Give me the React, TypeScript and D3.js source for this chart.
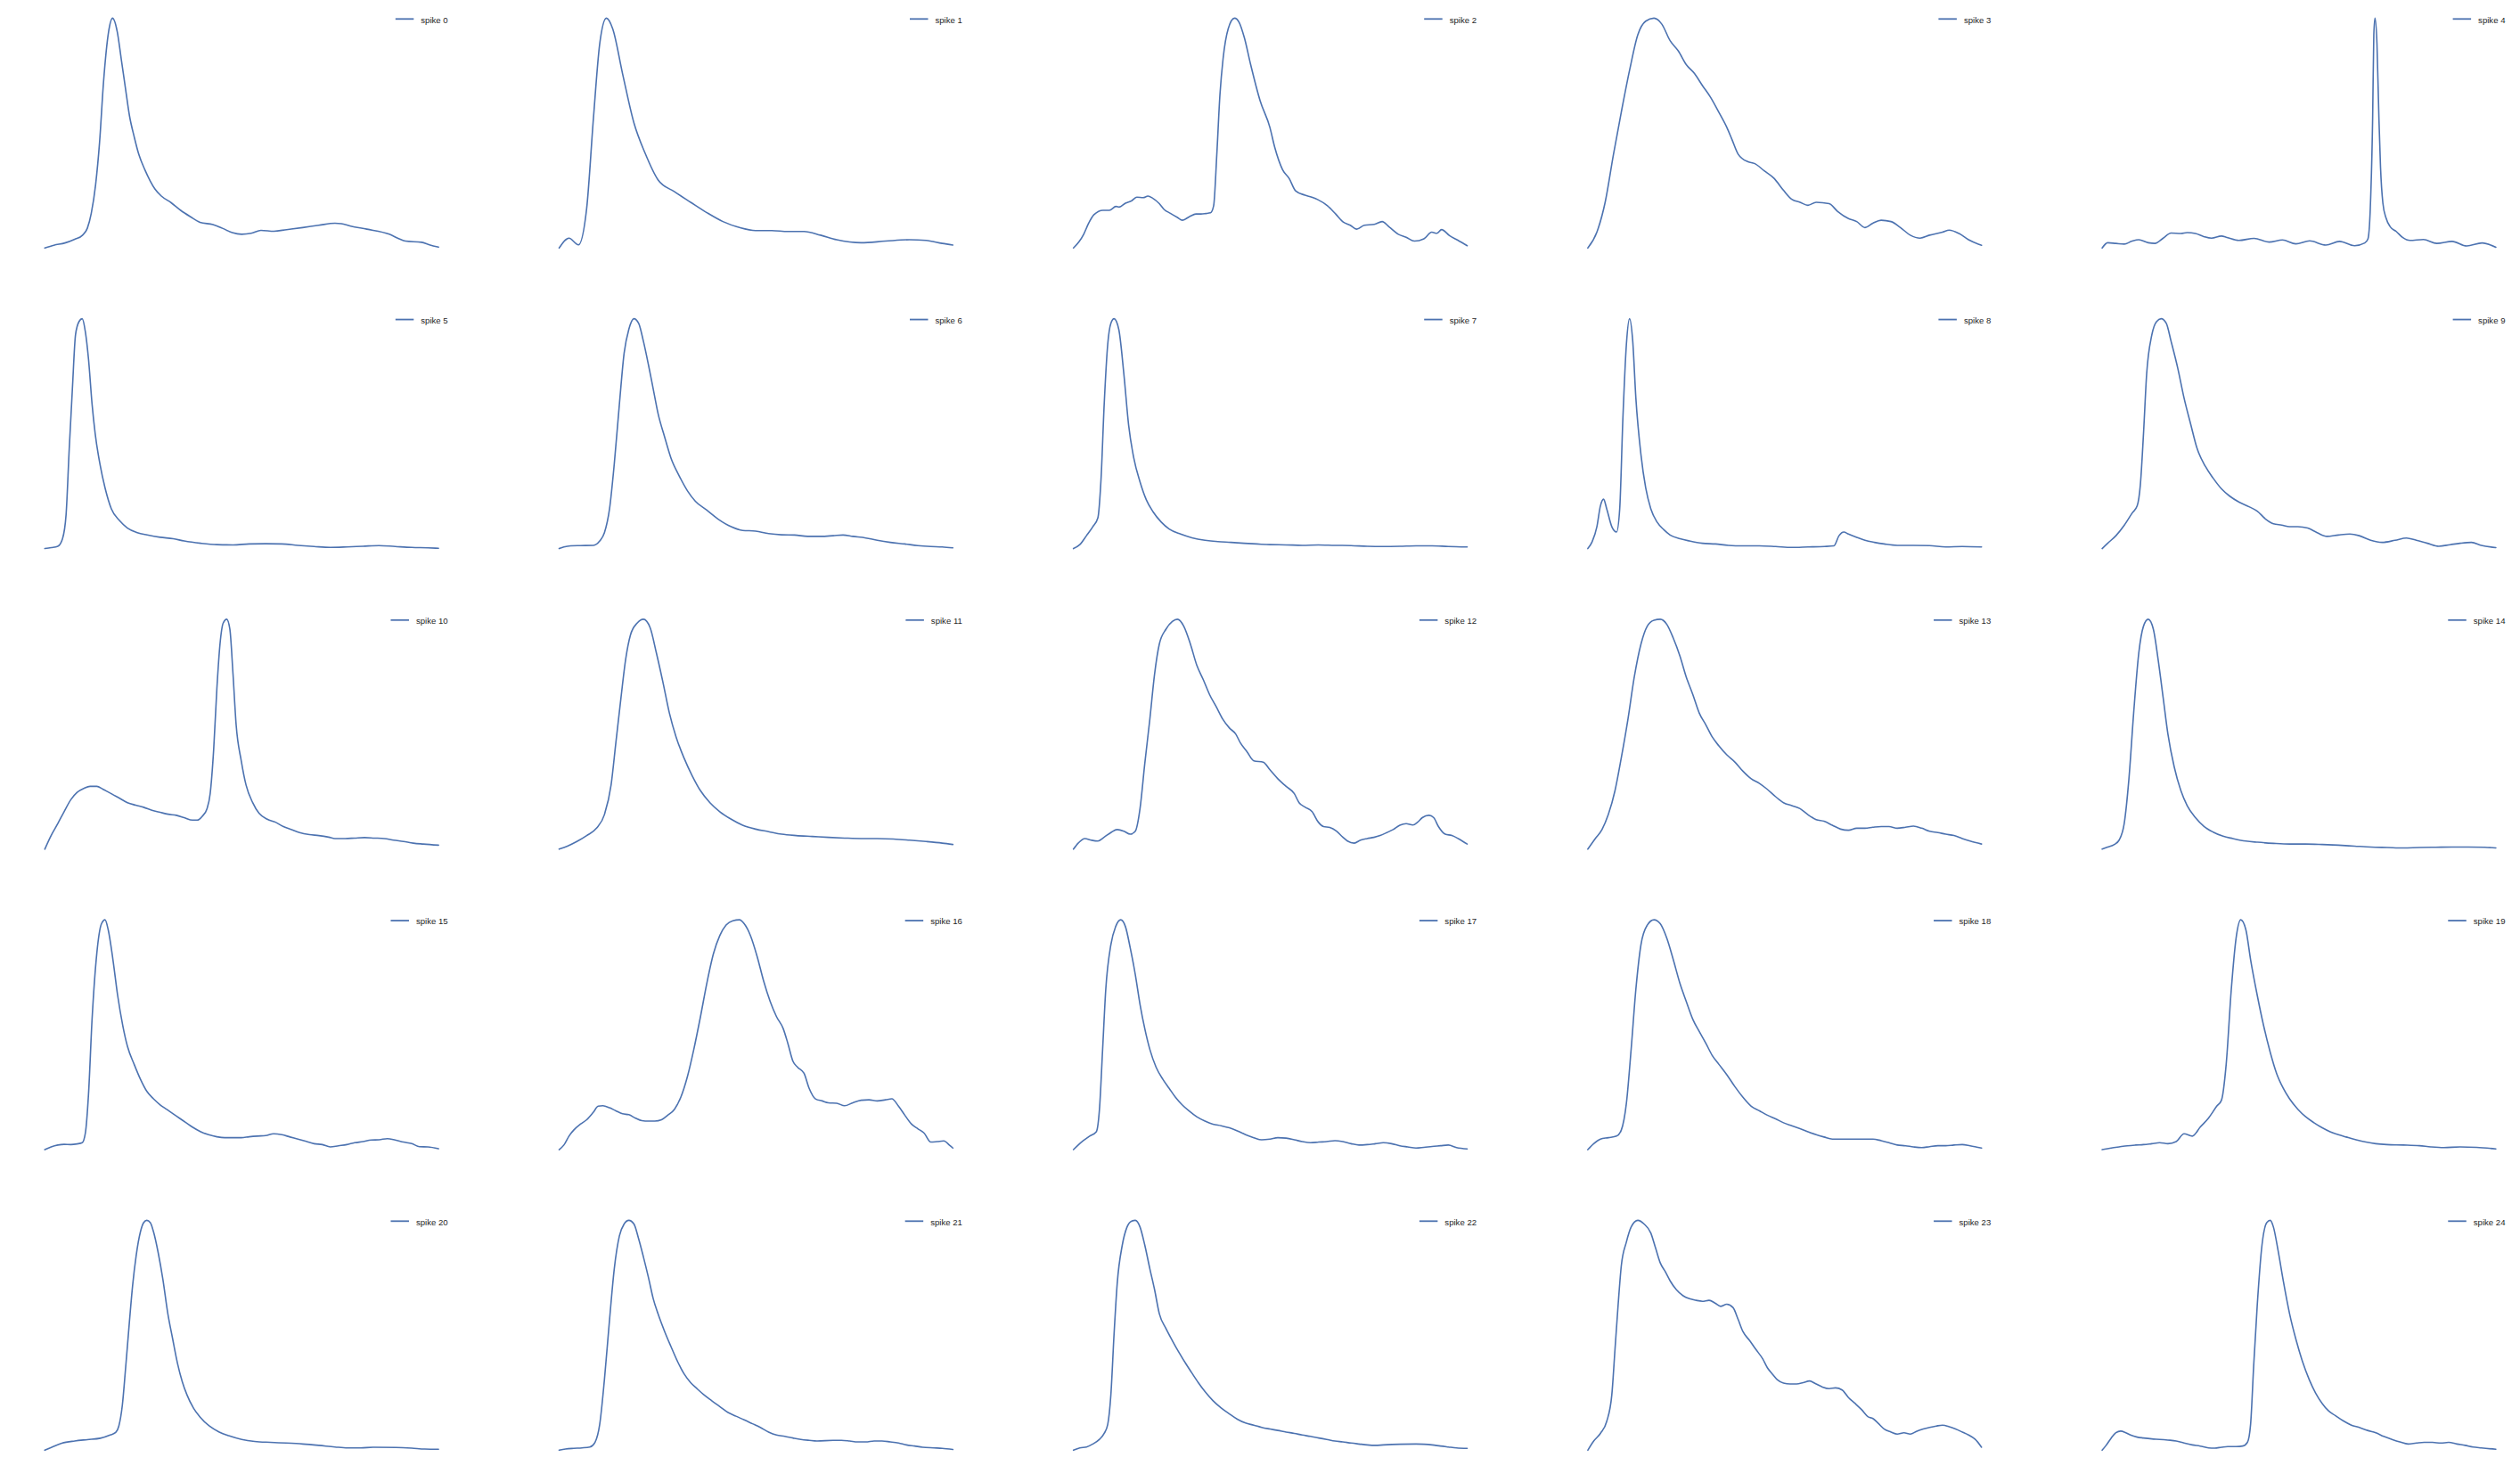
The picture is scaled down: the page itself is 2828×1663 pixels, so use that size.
import { curveMonotoneX, extent, line, scaleLinear } from "d3";
import { useMemo } from "react";

type Pt = [number, number];

// density traces, x = position along the window (0..100), y = density (peak ~1)
const spike0: Pt[] = [[0,0],[2.3,0.012],[5.1,0.022],[7.6,0.038],[9.6,0.056],[10.8,0.086],[11.8,0.151],[12.9,0.275],[13.9,0.458],[14.9,0.719],[16.2,0.941],[17.2,1],[18.4,0.941],[19.4,0.824],[20.5,0.693],[21.5,0.576],[22.7,0.484],[23.9,0.406],[25.4,0.341],[26.8,0.291],[28,0.256],[29.6,0.226],[32.1,0.197],[34.5,0.164],[37,0.136],[39.4,0.112],[42.7,0.102],[45.1,0.086],[47.6,0.067],[50,0.06],[52.4,0.064],[54.9,0.077],[58.2,0.073],[61.4,0.08],[65.5,0.089],[69.6,0.099],[73.7,0.108],[75.3,0.106],[77.7,0.095],[81.8,0.082],[87.5,0.06],[90,0.04],[91.6,0.03],[95.7,0.025],[97.7,0.014],[100,0.004]];
const spike1: Pt[] = [[0,0],[2.5,0.043],[4.9,0.014],[7,0.174],[8.7,0.563],[10.3,0.888],[12,1],[13.6,0.954],[16.1,0.759],[19,0.544],[21.8,0.414],[25.1,0.297],[29.3,0.245],[33.4,0.199],[37.5,0.154],[41.6,0.115],[45.8,0.089],[49.9,0.076],[54,0.076],[58.1,0.072],[62.2,0.072],[66.4,0.056],[70.5,0.036],[76.7,0.023],[82.9,0.03],[89,0.036],[93.2,0.033],[97.3,0.02],[100,0.013]];
const spike2: Pt[] = [[0,0],[1.4,0.027],[2.6,0.06],[3.8,0.106],[5.2,0.145],[7.5,0.164],[9.1,0.164],[10.8,0.181],[11.6,0.178],[13.2,0.195],[14.8,0.206],[16.1,0.221],[17.7,0.219],[18.9,0.226],[20.1,0.217],[21.8,0.193],[23,0.168],[24.6,0.151],[26.3,0.134],[27.7,0.121],[29.5,0.137],[31.1,0.148],[32.4,0.148],[33.6,0.15],[34.8,0.153],[35.6,0.184],[36.4,0.406],[37.2,0.667],[38,0.824],[39.3,0.954],[40.9,1],[42.1,0.981],[43.4,0.915],[45,0.798],[47.4,0.641],[49.9,0.524],[51.1,0.439],[53.1,0.341],[54.8,0.302],[56.4,0.249],[58.8,0.23],[60.5,0.221],[62.1,0.21],[64.5,0.184],[66.6,0.148],[68.6,0.112],[70.3,0.099],[71.9,0.082],[73.9,0.099],[76.4,0.103],[78.4,0.115],[80.1,0.093],[82.5,0.06],[84.5,0.047],[86.6,0.03],[89,0.04],[91,0.069],[92.3,0.064],[93.5,0.08],[95.5,0.054],[97.6,0.034],[100,0.01]];
const spike3: Pt[] = [[0,0],[2.3,0.069],[4.4,0.199],[6.5,0.406],[8.5,0.591],[10.6,0.773],[12.7,0.928],[14.7,0.987],[16.8,1],[18.8,0.974],[20.9,0.902],[23,0.857],[25,0.798],[27.1,0.759],[29.1,0.707],[31.2,0.655],[33.3,0.59],[35.3,0.525],[36.6,0.473],[38.2,0.408],[40.7,0.375],[42.3,0.368],[44.8,0.336],[47.3,0.303],[49.7,0.251],[51.8,0.212],[53.9,0.199],[55.9,0.186],[58,0.199],[61.3,0.193],[63.4,0.16],[66.2,0.128],[68.3,0.115],[70.4,0.089],[72.4,0.108],[74.5,0.121],[77,0.115],[79.4,0.089],[81.9,0.056],[84.4,0.043],[86.8,0.056],[90.1,0.069],[91.8,0.078],[94.3,0.063],[96.7,0.036],[99.2,0.017],[100,0.012]];
const spike4: Pt[] = [[0,0],[1.4,0.023],[3.5,0.02],[5.6,0.017],[7.6,0.03],[9.3,0.036],[11.7,0.023],[13.4,0.02],[15.5,0.043],[17.5,0.065],[20,0.063],[21.6,0.067],[23.7,0.063],[25.8,0.05],[27.8,0.043],[30.3,0.052],[31.7,0.046],[34.7,0.033],[38.6,0.042],[42.4,0.026],[45.8,0.035],[49.2,0.018],[52.7,0.031],[56.8,0.013],[60.3,0.029],[64.1,0.01],[66.7,0.022],[67.5,0.039],[68.1,0.17],[68.7,0.562],[69,0.928],[69.3,1],[69.8,0.889],[70.3,0.562],[70.7,0.353],[71.3,0.196],[72.1,0.131],[73.2,0.092],[74.7,0.072],[76.3,0.046],[78.2,0.033],[81.6,0.037],[85,0.02],[88.9,0.029],[92.6,0.009],[96.5,0.022],[100,0.003]];
const spike5: Pt[] = [[0,0],[1.6,0.004],[3.3,0.01],[4.5,0.043],[5.4,0.147],[6.2,0.433],[7,0.693],[7.8,0.93],[8.7,0.988],[9.5,1],[10.3,0.943],[11.1,0.824],[12,0.629],[12.8,0.499],[14,0.368],[15.3,0.264],[16.9,0.173],[19,0.121],[21,0.089],[23.5,0.069],[26,0.059],[29.3,0.049],[32.6,0.043],[35.4,0.033],[39.6,0.023],[43.7,0.017],[47.8,0.016],[51.9,0.02],[56.1,0.021],[60.2,0.02],[64.3,0.014],[68.4,0.009],[72.5,0.005],[76.7,0.007],[80.8,0.01],[84.9,0.013],[89,0.009],[93.2,0.005],[97.3,0.003],[100,0.001]];
const spike6: Pt[] = [[0,0],[1.2,0.007],[2.9,0.012],[5.4,0.013],[8.7,0.014],[10.3,0.033],[11.5,0.069],[12.8,0.173],[14,0.368],[15.3,0.628],[16.5,0.85],[17.7,0.954],[19,1],[20.2,0.98],[21.4,0.902],[22.7,0.798],[23.9,0.694],[25.1,0.589],[26.8,0.485],[28.4,0.394],[30.5,0.316],[32.6,0.251],[34.6,0.206],[37.5,0.167],[40.4,0.128],[43.7,0.095],[46.6,0.079],[49.9,0.076],[53.2,0.065],[56.5,0.06],[59.8,0.059],[63.1,0.053],[66.4,0.053],[69.6,0.056],[72.1,0.059],[74.6,0.053],[77.9,0.046],[80.8,0.036],[84.1,0.027],[87.8,0.02],[91.1,0.013],[94.4,0.009],[97.3,0.007],[100,0.003]];
const spike7: Pt[] = [[0,0],[1.6,0.017],[3.3,0.056],[4.9,0.095],[6.2,0.134],[7,0.303],[7.8,0.628],[8.7,0.889],[9.5,0.98],[10.3,1],[11.5,0.954],[12.8,0.759],[14,0.538],[15.3,0.395],[16.9,0.29],[18.5,0.212],[20.2,0.16],[22.3,0.115],[24.3,0.085],[27.2,0.063],[30.1,0.047],[33.4,0.036],[36.7,0.03],[40,0.027],[43.3,0.023],[46.6,0.02],[49.9,0.017],[54,0.016],[58.1,0.014],[62.2,0.016],[66.4,0.014],[70.5,0.013],[74.6,0.01],[78.7,0.009],[82.9,0.01],[87,0.012],[91.1,0.012],[95.2,0.009],[100,0.007]];
const spike8: Pt[] = [[0,0],[1.1,0.03],[2.3,0.095],[3.2,0.186],[4,0.215],[4.8,0.173],[6.1,0.095],[7.3,0.072],[8.1,0.173],[8.9,0.563],[9.8,0.889],[10.6,1],[11.4,0.904],[12.2,0.655],[13.5,0.408],[14.7,0.264],[16,0.173],[17.6,0.115],[19.3,0.082],[20.9,0.059],[23.4,0.043],[25.8,0.033],[29.1,0.023],[32.4,0.02],[35.7,0.014],[39.4,0.012],[43.6,0.012],[47.7,0.009],[51.8,0.005],[55.9,0.007],[60.1,0.009],[62.5,0.012],[63.8,0.056],[65,0.072],[66.2,0.063],[68.3,0.049],[70.4,0.036],[72.8,0.027],[75.3,0.02],[78.6,0.014],[82.7,0.014],[86.8,0.013],[90.9,0.007],[95.1,0.009],[100,0.007]];
const spike9: Pt[] = [[0,0],[1.4,0.023],[3.5,0.056],[5.6,0.101],[7.6,0.154],[8.9,0.186],[9.7,0.277],[10.5,0.499],[11.3,0.759],[12.6,0.928],[13.8,0.987],[15,1],[16.3,0.98],[17.5,0.902],[19.2,0.785],[20.8,0.655],[22.5,0.54],[24.1,0.436],[26.2,0.358],[28.2,0.306],[30.3,0.26],[32.4,0.228],[34.8,0.202],[37.3,0.182],[39.4,0.163],[41.4,0.13],[43.5,0.108],[45.6,0.102],[47.6,0.095],[49.7,0.095],[52.2,0.089],[54.6,0.069],[57.1,0.053],[60,0.059],[62.9,0.063],[65.3,0.056],[68.2,0.036],[71.1,0.027],[74.4,0.036],[77.3,0.046],[79.8,0.036],[82.6,0.023],[85.5,0.01],[88.4,0.017],[90.9,0.023],[93.8,0.027],[96.3,0.014],[100,0.004]];
const spike10: Pt[] = [[0,0],[1.6,0.059],[3.3,0.111],[4.9,0.163],[6.6,0.215],[8.2,0.247],[9.9,0.264],[11.5,0.273],[13.2,0.273],[14.8,0.26],[16.9,0.241],[19,0.221],[21,0.202],[23.1,0.191],[25.1,0.182],[27.2,0.169],[29.3,0.16],[31.3,0.152],[33.4,0.147],[35.4,0.137],[37.5,0.126],[38.7,0.126],[40,0.143],[41.2,0.176],[42,0.241],[42.9,0.436],[43.7,0.697],[44.5,0.892],[45.3,0.983],[46.2,1],[47,0.957],[47.8,0.762],[48.6,0.54],[49.9,0.384],[51.1,0.28],[52.8,0.202],[54.4,0.156],[56.5,0.13],[58.6,0.117],[60.6,0.098],[62.7,0.085],[64.7,0.072],[67.2,0.063],[69.6,0.059],[72.1,0.052],[73.7,0.046],[76.3,0.046],[78.7,0.048],[81.2,0.05],[83.7,0.048],[86.2,0.046],[88.6,0.039],[91.1,0.033],[93.6,0.026],[96.1,0.022],[100,0.017]];
const spike11: Pt[] = [[0,0],[2.1,0.013],[4.5,0.033],[7,0.059],[9.5,0.091],[11.5,0.15],[13.2,0.28],[14.4,0.462],[15.7,0.658],[16.9,0.827],[18.1,0.931],[19.8,0.983],[21.4,1],[23.1,0.964],[24.7,0.853],[26.4,0.723],[28,0.592],[29.7,0.488],[31.7,0.397],[33.8,0.319],[35.9,0.254],[38.3,0.202],[40.8,0.163],[43.7,0.13],[46.6,0.104],[49.9,0.087],[53.2,0.076],[56.5,0.065],[60.2,0.059],[64.3,0.055],[68.4,0.051],[72.5,0.048],[76.7,0.046],[80.8,0.046],[84.9,0.044],[89,0.039],[93.2,0.033],[97.3,0.026],[100,0.02]];
const spike12: Pt[] = [[0,0],[1.2,0.026],[2.9,0.046],[4.5,0.039],[6.2,0.035],[7.8,0.052],[9.5,0.072],[11.1,0.085],[12.8,0.078],[14.4,0.065],[15.7,0.078],[16.9,0.176],[18.1,0.371],[19.4,0.566],[20.6,0.762],[21.8,0.892],[23.5,0.957],[25.1,0.99],[26.4,1],[28,0.97],[29.7,0.892],[31.3,0.801],[33,0.736],[34.6,0.671],[36.3,0.618],[37.9,0.566],[39.6,0.527],[41.2,0.501],[42.4,0.462],[44.1,0.423],[45.8,0.384],[48.2,0.378],[49.9,0.345],[51.9,0.306],[54,0.273],[56.1,0.241],[57.3,0.202],[58.9,0.182],[60.6,0.163],[62.2,0.117],[63.5,0.098],[65.1,0.094],[66.8,0.078],[68.4,0.052],[69.6,0.035],[71.3,0.026],[72.9,0.039],[74.6,0.046],[76.3,0.051],[77.9,0.059],[79.6,0.072],[81.2,0.085],[82.9,0.104],[84.5,0.111],[86.2,0.105],[87.4,0.117],[88.6,0.137],[90.3,0.147],[91.5,0.137],[92.7,0.098],[94.4,0.065],[96.1,0.059],[97.7,0.046],[100,0.022]];
const spike13: Pt[] = [[0,0],[1.9,0.046],[3.6,0.085],[5.2,0.15],[6.9,0.254],[8.5,0.397],[10.2,0.566],[11.8,0.749],[13.5,0.892],[15.1,0.97],[16.8,0.996],[18.4,1],[20.1,0.977],[21.7,0.918],[23.4,0.84],[25,0.749],[26.7,0.671],[28.3,0.592],[30,0.54],[31.6,0.488],[33.3,0.449],[35.3,0.41],[37.4,0.378],[39.4,0.339],[41.5,0.306],[43.6,0.286],[45.6,0.26],[47.7,0.228],[49.7,0.202],[51.8,0.189],[53.9,0.176],[55.9,0.15],[58,0.128],[60,0.121],[62.1,0.104],[64.2,0.087],[66.2,0.082],[68.3,0.091],[70.4,0.091],[72.4,0.095],[74.5,0.098],[76.5,0.098],[78.6,0.091],[80.7,0.095],[82.7,0.1],[84.8,0.091],[86.8,0.078],[88.9,0.072],[90.9,0.065],[93,0.059],[95.1,0.046],[97.1,0.035],[100,0.022]];
const spike14: Pt[] = [[0,0],[1.4,0.009],[3.1,0.02],[4.3,0.039],[5.6,0.111],[6.8,0.306],[8,0.592],[9.3,0.853],[10.5,0.97],[11.7,1],[13,0.957],[14.2,0.827],[15.5,0.658],[16.7,0.501],[18.3,0.358],[20,0.254],[21.6,0.189],[23.7,0.137],[25.8,0.1],[28.2,0.074],[30.7,0.056],[33.2,0.046],[36.5,0.035],[39.4,0.03],[43.5,0.025],[47.6,0.022],[51.7,0.022],[55.9,0.02],[60,0.017],[64.1,0.013],[68.2,0.009],[72.4,0.007],[76.5,0.005],[80.6,0.007],[84.7,0.008],[88.9,0.009],[93,0.009],[97.1,0.008],[100,0.005]];
const spike15: Pt[] = [[0,0],[1.6,0.012],[3.3,0.02],[4.9,0.023],[6.6,0.022],[8.2,0.025],[9.5,0.03],[10.3,0.072],[11.1,0.241],[12,0.566],[13.2,0.853],[14.4,0.983],[15.3,1],[16.1,0.957],[17.3,0.827],[18.5,0.671],[19.8,0.54],[21,0.449],[22.7,0.371],[24.3,0.306],[25.9,0.254],[27.6,0.221],[29.3,0.195],[30.9,0.176],[32.6,0.156],[34.2,0.137],[35.9,0.117],[37.5,0.098],[39.6,0.078],[41.6,0.065],[43.7,0.056],[45.7,0.052],[49.9,0.052],[51.9,0.056],[54,0.059],[56.1,0.061],[58.1,0.069],[60.2,0.065],[62.3,0.055],[64.3,0.046],[66.4,0.036],[68.4,0.026],[70.5,0.022],[72.5,0.012],[74.6,0.017],[76.7,0.022],[78.7,0.03],[80.8,0.035],[82.9,0.042],[84.9,0.043],[87,0.048],[89,0.042],[91.1,0.033],[93.2,0.026],[95.2,0.013],[97.3,0.012],[100,0.004]];
const spike16: Pt[] = [[0,0],[1.2,0.02],[2.5,0.059],[3.7,0.085],[5.4,0.111],[7,0.13],[8.7,0.163],[9.9,0.189],[11.1,0.191],[12.8,0.182],[14.4,0.169],[16.1,0.156],[17.7,0.152],[19.4,0.137],[21,0.126],[22.7,0.124],[24.3,0.124],[26,0.13],[27.6,0.15],[29.3,0.176],[30.9,0.228],[32.6,0.319],[34.2,0.436],[35.9,0.579],[37.5,0.723],[39.2,0.853],[40.8,0.931],[42.4,0.977],[44.1,0.996],[45.8,1],[47,0.983],[48.6,0.931],[50.3,0.84],[51.9,0.736],[53.6,0.645],[55.2,0.579],[56.9,0.527],[58.1,0.462],[59.4,0.384],[60.6,0.358],[62.2,0.332],[63.5,0.267],[65.1,0.221],[66.8,0.212],[68.4,0.204],[70.5,0.202],[72.5,0.191],[74.6,0.204],[76.7,0.215],[78.7,0.217],[80.8,0.212],[82.9,0.217],[84.5,0.221],[86.2,0.189],[87.8,0.15],[89.5,0.111],[91.1,0.091],[92.7,0.072],[94.4,0.033],[96,0.035],[97.7,0.038],[99.3,0.017],[100,0.007]];
const spike17: Pt[] = [[0,0],[1.2,0.02],[2.5,0.039],[4.1,0.059],[5.8,0.078],[6.6,0.176],[7.4,0.436],[8.2,0.697],[9.5,0.892],[10.7,0.97],[12,1],[13.2,0.97],[14.4,0.879],[15.7,0.762],[16.9,0.632],[18.1,0.527],[19.4,0.436],[21,0.358],[22.7,0.306],[24.3,0.267],[25.9,0.228],[27.6,0.195],[29.3,0.169],[31.3,0.143],[33.4,0.124],[35.4,0.111],[37.5,0.104],[39.6,0.095],[41.6,0.082],[43.7,0.065],[45.8,0.052],[47.8,0.043],[49.9,0.046],[51.9,0.052],[54,0.05],[56.1,0.043],[58.1,0.035],[60.2,0.03],[62.3,0.033],[64.3,0.035],[66.4,0.039],[68.4,0.035],[70.5,0.026],[72.5,0.02],[74.6,0.022],[76.7,0.026],[78.7,0.03],[80.8,0.026],[82.9,0.017],[84.9,0.012],[87,0.007],[89,0.01],[91.1,0.014],[93.2,0.017],[95.2,0.02],[97.3,0.009],[100,0.003]];
const spike18: Pt[] = [[0,0],[1.5,0.026],[3.2,0.046],[5.2,0.052],[7.3,0.059],[8.5,0.085],[9.8,0.202],[11,0.436],[12.2,0.697],[13.5,0.892],[15.1,0.977],[16.8,1],[18.4,0.983],[20.1,0.918],[21.7,0.827],[23.4,0.723],[25,0.645],[26.7,0.566],[28.3,0.514],[30,0.462],[31.6,0.41],[33.3,0.371],[35.3,0.326],[37.4,0.273],[39.4,0.228],[41.5,0.189],[43.6,0.169],[45.6,0.15],[47.7,0.134],[49.7,0.117],[51.8,0.104],[53.9,0.091],[55.9,0.078],[58,0.065],[60,0.055],[62.1,0.046],[66.2,0.046],[72.4,0.046],[74.5,0.039],[76.5,0.03],[78.6,0.02],[80.7,0.017],[82.7,0.012],[84.8,0.009],[86.8,0.013],[88.9,0.017],[90.9,0.017],[93,0.02],[95.1,0.022],[97.1,0.017],[100,0.007]];
const spike19: Pt[] = [[0,0],[2.3,0.007],[4.3,0.012],[6.4,0.017],[8.5,0.02],[10.5,0.022],[12.6,0.026],[14.6,0.03],[16.7,0.026],[18.8,0.035],[20.8,0.069],[22.9,0.059],[24.9,0.098],[27,0.137],[29.1,0.189],[30.3,0.215],[31.5,0.371],[32.8,0.697],[34,0.918],[35.2,1],[36.5,0.957],[37.7,0.827],[39.4,0.671],[41,0.54],[42.7,0.423],[44.3,0.332],[46,0.267],[47.6,0.221],[49.7,0.176],[51.7,0.143],[53.8,0.117],[55.9,0.095],[57.9,0.078],[60,0.065],[62,0.055],[64.5,0.043],[67,0.033],[69.5,0.026],[72.3,0.022],[76.5,0.02],[80.6,0.017],[83.5,0.012],[86.8,0.009],[90.9,0.012],[95.1,0.01],[100,0.003]];
const spike20: Pt[] = [[0,0],[1.9,0.014],[4.3,0.03],[7.6,0.04],[10.8,0.046],[14.1,0.052],[16.6,0.066],[18,0.077],[18.8,0.105],[19.7,0.197],[20.5,0.353],[21.5,0.561],[22.3,0.716],[23.2,0.846],[24.3,0.951],[25.1,0.99],[25.9,1],[26.8,0.99],[27.6,0.951],[28.8,0.859],[30,0.742],[31.2,0.599],[32.5,0.482],[33.7,0.378],[34.9,0.299],[36.1,0.241],[37.8,0.182],[39.4,0.145],[41.8,0.105],[44.3,0.079],[46.7,0.063],[50,0.047],[53.3,0.038],[57.3,0.034],[61.4,0.031],[65.5,0.027],[69.6,0.021],[73.7,0.014],[76.9,0.01],[80.2,0.01],[83.4,0.013],[89.2,0.012],[93.2,0.009],[96.5,0.005],[100,0.004]];
const spike21: Pt[] = [[0,0],[1.6,0.005],[3.7,0.008],[5.8,0.01],[7.8,0.014],[9.1,0.034],[10.3,0.112],[11.5,0.307],[12.8,0.568],[14,0.789],[15.3,0.932],[16.5,0.984],[17.7,1],[19,0.984],[20.2,0.919],[21.4,0.841],[22.7,0.75],[23.9,0.659],[25.1,0.594],[26.8,0.516],[28.4,0.451],[30.1,0.385],[31.7,0.333],[33.4,0.294],[35,0.268],[36.7,0.242],[38.7,0.216],[40.8,0.19],[42.9,0.164],[44.9,0.148],[47,0.132],[49.1,0.115],[51.1,0.099],[53.2,0.079],[55.2,0.066],[57.3,0.06],[59.4,0.053],[61.4,0.047],[63.5,0.043],[65.5,0.04],[69.6,0.043],[71.7,0.043],[73.8,0.04],[75.8,0.036],[77.9,0.036],[80,0.04],[82,0.04],[84.1,0.036],[86.2,0.031],[88.2,0.023],[90.3,0.018],[92.3,0.013],[95.2,0.01],[97.3,0.008],[100,0.003]];
const spike22: Pt[] = [[0,0],[1.6,0.01],[3.3,0.014],[4.9,0.027],[6.6,0.047],[7.8,0.073],[8.7,0.112],[9.5,0.242],[10.3,0.503],[11.1,0.724],[12.4,0.893],[13.6,0.971],[14.8,0.997],[15.7,1],[16.9,0.971],[18.1,0.893],[19.4,0.789],[20.6,0.698],[21.8,0.594],[23.5,0.529],[25.1,0.477],[26.8,0.425],[28.4,0.38],[30.1,0.335],[31.7,0.294],[33.4,0.255],[35.4,0.216],[37.5,0.184],[39.6,0.158],[41.6,0.135],[43.7,0.118],[45.8,0.109],[47.8,0.099],[49.9,0.092],[51.9,0.086],[54,0.079],[56.1,0.073],[58.1,0.066],[60.2,0.06],[62.3,0.053],[64.3,0.047],[66.4,0.04],[68.4,0.036],[70.5,0.031],[72.5,0.027],[74.6,0.023],[76.7,0.021],[78.7,0.023],[82.9,0.026],[87,0.027],[89,0.026],[91.1,0.023],[93.2,0.018],[95.2,0.014],[97.3,0.01],[100,0.008]];
const spike23: Pt[] = [[0,0],[1.5,0.04],[3.2,0.073],[4.8,0.125],[6.1,0.242],[6.9,0.438],[7.7,0.633],[8.5,0.802],[9.8,0.906],[11,0.971],[12.7,1],[14.3,0.984],[16,0.945],[17.2,0.88],[18.4,0.815],[19.7,0.776],[20.9,0.737],[22.5,0.698],[24.2,0.672],[25.8,0.659],[27.5,0.652],[29.1,0.648],[30.8,0.652],[32.4,0.639],[33.7,0.626],[35.3,0.635],[36.9,0.62],[38.2,0.568],[39.4,0.516],[41.1,0.477],[42.7,0.438],[44.4,0.398],[45.6,0.359],[46.8,0.333],[48.1,0.307],[49.7,0.292],[51.4,0.288],[53,0.288],[54.7,0.294],[56.3,0.301],[58,0.288],[59.6,0.275],[61.3,0.268],[62.9,0.271],[64.6,0.262],[66.2,0.229],[67.9,0.203],[69.5,0.177],[71.2,0.145],[72.4,0.138],[73.7,0.118],[75.3,0.092],[77,0.079],[78.6,0.07],[80.3,0.076],[81.9,0.07],[83.6,0.083],[85.2,0.092],[86.8,0.099],[88.5,0.105],[90.1,0.109],[91.8,0.102],[93.4,0.092],[95.1,0.079],[96.7,0.066],[98.4,0.047],[100,0.013]];
const spike24: Pt[] = [[0,0],[1,0.021],[2.3,0.053],[3.5,0.076],[4.7,0.083],[6,0.076],[7.2,0.066],[8.9,0.057],[10.5,0.053],[12.6,0.049],[14.6,0.047],[16.7,0.044],[18.8,0.04],[20.8,0.031],[22.9,0.023],[24.9,0.018],[27,0.01],[28.6,0.009],[30.3,0.013],[31.9,0.016],[34,0.016],[35.7,0.018],[36.9,0.034],[37.7,0.112],[38.5,0.372],[39.4,0.633],[40.6,0.893],[41.8,0.99],[42.7,1],[43.5,0.971],[44.7,0.867],[46,0.737],[47.6,0.594],[49.3,0.477],[50.9,0.385],[52.6,0.307],[54.2,0.249],[55.9,0.203],[57.5,0.171],[59.2,0.151],[61.2,0.128],[63.3,0.109],[65.3,0.099],[67.4,0.086],[69.5,0.076],[71.5,0.06],[73.6,0.047],[75.6,0.036],[77.7,0.027],[79.8,0.031],[81.8,0.034],[83.9,0.034],[86,0.031],[88,0.034],[90.1,0.027],[92.2,0.021],[94.2,0.014],[96.3,0.01],[100,0.004]];

const SPIKES = [
  spike0, spike1, spike2, spike3, spike4,
  spike5, spike6, spike7, spike8, spike9,
  spike10, spike11, spike12, spike13, spike14,
  spike15, spike16, spike17, spike18, spike19,
  spike20, spike21, spike22, spike23, spike24,
];
const LABELS = SPIKES.map((_, i) => `spike ${i}`);

const WIDTH = 2828;
const HEIGHT = 1663;
const COLS = 5;
const COLOR = "#4C72B0";
const FONT = "'Liberation Sans', Arial, sans-serif";
const FONT_SIZE = 9.6;

function measure(text: string) {
  const ctx = document.createElement("canvas").getContext("2d");
  if (!ctx) return text.length * 5;
  ctx.font = `${FONT_SIZE}px ${FONT}`;
  return ctx.measureText(text).width;
}

function Panel({ data, label, index }: { data: Pt[]; label: string; index: number }) {
  const col = index % COLS;
  const row = Math.floor(index / COLS);
  const left = 28.2 + col * 577.2;
  const top = 7.5 + row * 337.25;
  const w = 486;
  const h = 283.7;

  const [x0, x1] = extent(data, (d) => d[0]) as [number, number];
  const [y0, y1] = extent(data, (d) => d[1]) as [number, number];
  const px = (x1 - x0) * 0.05;
  const py = (y1 - y0) * 0.05;
  const x = scaleLinear().domain([x0 - px, x1 + px]).range([left, left + w]);
  const y = scaleLinear().domain([y0 - py, y1 + py]).range([top + h, top]);

  const path = line<Pt>()
    .curve(curveMonotoneX)
    .x((d) => x(d[0]))
    .y((d) => y(d[1]));

  const textW = useMemo(() => measure(label), [label]);
  const textRight = left + w - 11.5;
  const legendY = top + 13.8;
  const handleEnd = textRight - textW - 8;

  return (
    <g>
      <path
        d={path(data) ?? ""}
        fill="none"
        stroke={COLOR}
        strokeWidth={1.6}
        strokeLinejoin="round"
        strokeLinecap="round"
      />
      <line x1={handleEnd - 20.5} x2={handleEnd} y1={legendY} y2={legendY} stroke={COLOR} strokeWidth={1.8} />
      <text
        x={textRight}
        y={legendY + 0.8}
        textAnchor="end"
        dominantBaseline="central"
        fontFamily={FONT}
        fontSize={FONT_SIZE}
        fill="#262626"
      >
        {label}
      </text>
    </g>
  );
}

export default function App() {
  return (
    <svg
      width={WIDTH}
      height={HEIGHT}
      viewBox={`0 0 ${WIDTH} ${HEIGHT}`}
      style={{ position: "absolute", left: 0, top: 0, background: "#fff" }}
    >
      {SPIKES.map((data, i) => (
        <Panel key={LABELS[i]} data={data} label={LABELS[i]} index={i} />
      ))}
    </svg>
  );
}
